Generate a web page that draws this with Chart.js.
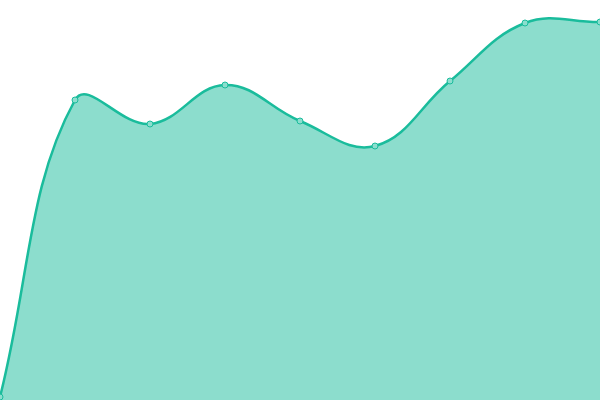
<!DOCTYPE html>
<html><head><meta charset="utf-8">
<script src="https://cdn.jsdelivr.net/npm/chart.js@4"></script>
<style>html,body{margin:0;padding:0;background:#fff}#wrap{width:600px;height:400px}</style>
</head><body><div id="wrap"><canvas id="c"></canvas></div>
<script>
const labels = ["1","2","3","4","5","6","7","8","9"];
const values = [3, 300, 276, 315, 279, 254, 319, 377, 378];
new Chart(document.getElementById('c'), {
  type: 'line',
  data: { labels: labels, datasets: [{
    data: values,
    fill: true,
    backgroundColor: 'rgba(26,188,156,0.5)',
    borderColor: '#1abc9c',
    borderWidth: 2.5,
    tension: 0.4,
    pointRadius: 3,
    pointBackgroundColor: 'rgba(140,222,206,1)',
    pointBorderColor: '#1abc9c',
    pointBorderWidth: 1
  }]},
  options: {
    responsive: true, maintainAspectRatio: false, animation: false,
    layout: { padding: 0, autoPadding: false },
    plugins: { legend: { display: false }, tooltip: { enabled: false } },
    scales: {
      x: { display: false, offset: false },
      y: { display: false, min: 0, max: 400 }
    }
  }
});
</script></body></html>
